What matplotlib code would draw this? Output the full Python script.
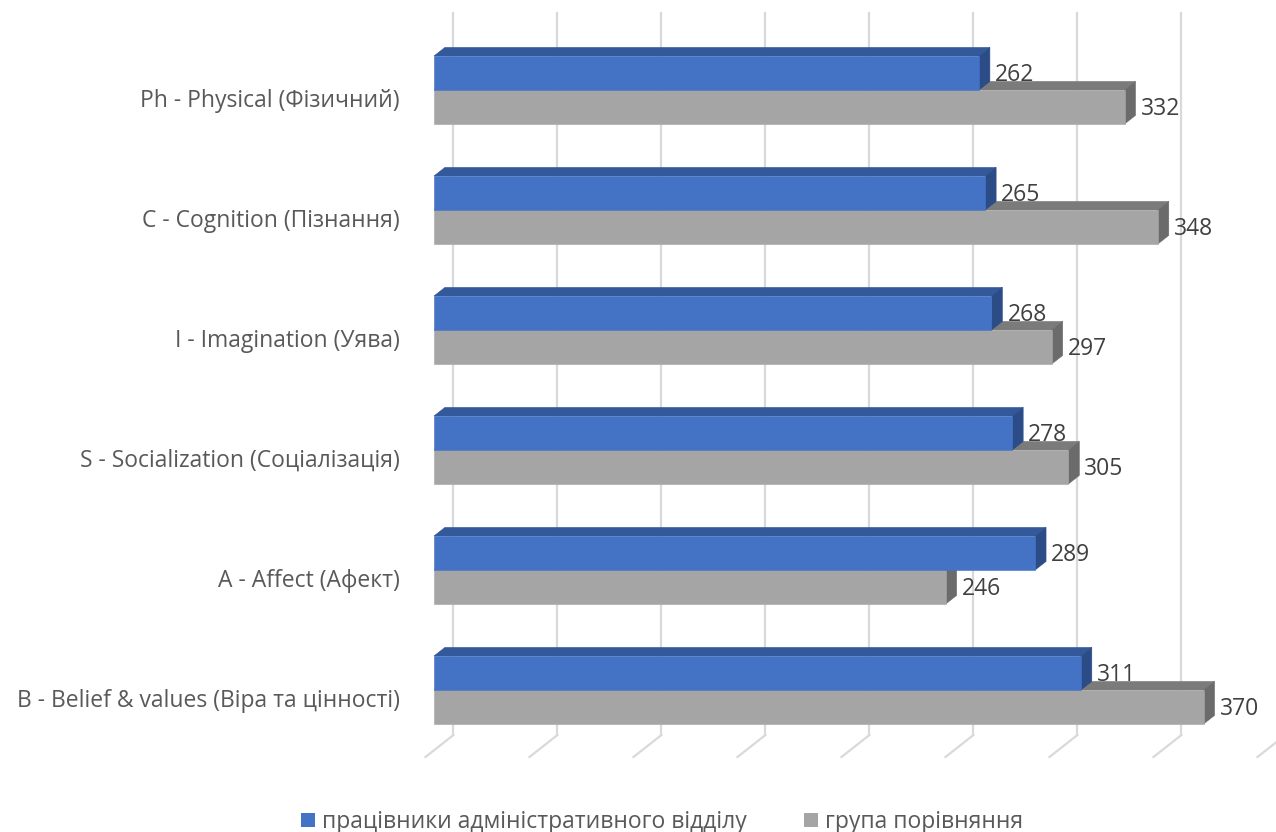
import numpy as np
import matplotlib
matplotlib.use("Agg")
import matplotlib.pyplot as plt
from matplotlib.patches import Polygon, Patch

plt.rcParams['font.family'] = ['Open Sans', 'DejaVu Sans']

# data (bottom to top, as drawn)
categories = ["B - Belief & values (Віра та цінності)",
              "A - Affect (Афект)",
              "S - Socialization (Соціалізація)",
              "I - Imagination (Уява)",
              "C - Cognition (Пізнання)",
              "Ph - Physical (Фізичний)"]
admin_staff = [311, 289, 278, 268, 265, 262]
comparison = [370, 246, 305, 297, 348, 332]
series_names = ["працівники адміністративного відділу", "група порівняння"]

# colours: front, top, side
blue = ("#4472C4", "#34599B", "#2B4C86")
gray = ("#A5A5A5", "#7B7B7B", "#6B6B6B")

W, H = 1276, 832
px_per_unit = 2.08
row_px = 120.0
fs = 16.5

fig = plt.figure(figsize=(W / 100, H / 100), dpi=100)
left = 434 / W
ax = fig.add_axes([left, 0, 1 - left, 1])
ax.set_xlim(0, (W - 434) / px_per_unit)
ax.set_ylim(-142 / row_px, 690 / row_px)

# depth vector for whole floor depth (data units)
DX = 28 / px_per_unit
DY = 22 / row_px
bar_d = 0.39          # bar depth as fraction of floor depth
front_d = -0.305      # floor front relative to bar front
wall_d = front_d + 1  # back wall


def proj(v, y, d):
    return (v + d * DX, y + d * DY)


# gridlines: vertical on back wall, diagonal on floor
wall_bottom = -45 / row_px - wall_d * DY
wall_top = 677 / row_px - wall_d * DY
for v in np.arange(0, 401, 50):
    x0, y0 = proj(v, wall_bottom, wall_d)
    x1, y1 = proj(v, wall_top, wall_d)
    xf, yf = proj(v, wall_bottom, front_d)
    ax.plot([x0, x1], [y0, y1], color="#D9D9D9", lw=1.6, clip_on=False, zorder=1)
    ax.plot([xf, x0], [yf, y0], color="#D9D9D9", lw=1.6, clip_on=False, zorder=1)

bar_h = 34 / row_px


def bar3d(v, y0, y1, cols):
    front = [proj(0, y0, 0), proj(v, y0, 0), proj(v, y1, 0), proj(0, y1, 0)]
    top = [proj(0, y1, 0), proj(v, y1, 0), proj(v, y1, bar_d), proj(0, y1, bar_d)]
    side = [proj(v, y0, 0), proj(v, y0, bar_d), proj(v, y1, bar_d), proj(v, y1, 0)]
    for poly, c in ((top, cols[1]), (side, cols[2]), (front, cols[0])):
        ax.add_patch(Polygon(poly, closed=True, facecolor=c, edgecolor=c,
                             lw=0.4, zorder=3, clip_on=False))


lab_off = 16 / px_per_unit
for i in range(len(categories) - 1, -1, -1):
    bar3d(comparison[i], i - bar_h, i, gray)
    bar3d(admin_staff[i], i, i + bar_h, blue)
    ax.text(admin_staff[i] + lab_off, i + bar_h / 2 - 2 / row_px, str(admin_staff[i]),
            ha="left", va="center", fontsize=fs, color="#404040", zorder=5)
    ax.text(comparison[i] + lab_off, i - bar_h / 2 - 2 / row_px, str(comparison[i]),
            ha="left", va="center", fontsize=fs, color="#404040", zorder=5)

ax.set_yticks(np.arange(len(categories)) - 8 / row_px)
ax.set_yticklabels(categories, fontsize=fs, color="#595959")
ax.tick_params(axis="y", length=0, pad=24.5)
ax.set_xticks([])
for s in ax.spines.values():
    s.set_visible(False)
ax.patch.set_alpha(0)

handles = [Patch(facecolor=blue[0], edgecolor="none"),
           Patch(facecolor=gray[0], edgecolor="none")]
fig.legend(handles, series_names, loc="center", bbox_to_anchor=(662 / W, 1 - 822 / H),
           ncol=2, frameon=False, fontsize=fs, labelcolor="#595959",
           handlelength=0.62, handleheight=0.62, handletextpad=0.3, columnspacing=2.5,
           borderaxespad=0, borderpad=0)

fig.savefig("out.png", dpi=100)
